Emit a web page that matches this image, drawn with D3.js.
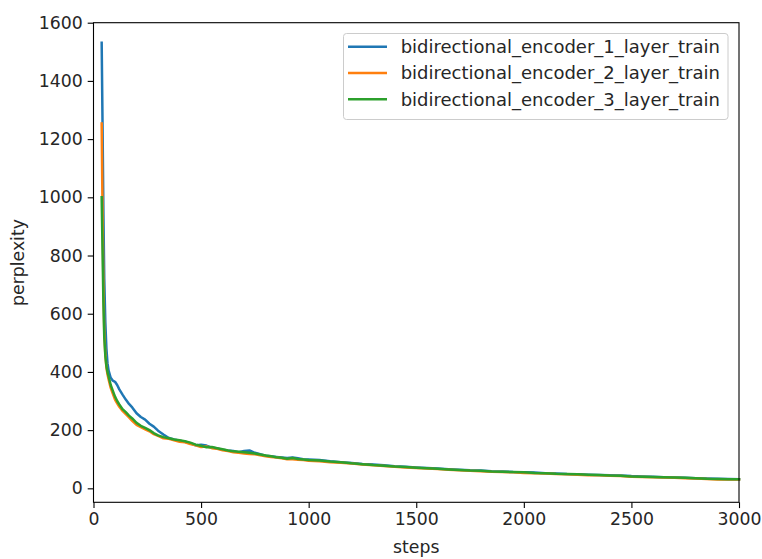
<!DOCTYPE html>
<html><head><meta charset="utf-8">
<script src="https://cdn.jsdelivr.net/npm/d3@7"></script>
<style>body{margin:0;background:#fff;} svg{display:block;} text{font-family:"DejaVu Sans",sans-serif;fill:#262626;}</style>
</head><body>
<script>
const steps = [38,42,46,50,55,60,65,70,80,90,100,110,120,135,150,165,180,200,220,240,260,280,300,
325,350,375,400,425,450,475,500,525,550,575,600,625,650,675,700,725,750,775,800,825,850,875,900,925,950,975,
1000,1050,1100,1150,1200,1250,1300,1350,1400,1450,1500,1550,1600,1650,1700,1750,1800,1850,1900,1950,
2000,2050,2100,2150,2200,2250,2300,2350,2400,2450,2500,2550,2600,2650,2700,2750,2800,2850,2900,2950,3000];

const layer1 = [1531,1250,950,720,570,480,430,405,380,370,366,355,340,322,305,290,278,258,245,236,222,212,198,
185,173,168,164,160,155,148,150,147,140,137,133,130,128,124,128,130,122,117,112,110,108,106,104,106,103,100,
99,97,93,90,87,84,82,79,76,74,72,70,68,66,64,62,61,59,58,56,
55,54,52,51,49,48,47,46,45,44,42,41,40,38,37,36,35,34,33,32,31];

const layer2 = [1254,950,700,540,460,415,392,375,345,325,305,292,280,266,255,244,232,218,210,203,196,186,180,
172,170,165,160,158,152,148,142,144,138,136,131,128,124,122,120,118,117,114,110,108,106,103,100,100,98,97,
95,93,90,88,85,82,79,77,74,72,70,68,66,64,62,60,59,57,56,55,
53,52,51,49,48,47,45,45,43,42,40,39,38,37,36,35,34,32,30,30,30];

const layer3 = [1000,820,640,520,455,420,400,385,355,335,315,300,288,272,262,250,240,225,215,208,200,190,182,
176,172,168,165,162,157,150,146,141,142,138,134,130,127,126,124,122,120,116,113,110,107,105,102,104,101,99,
97,96,92,90,86,83,80,78,75,73,71,69,67,65,63,61,60,58,57,56,
55,53,52,50,49,48,47,46,44,43,41,40,39,38,37,36,35,33,32,31,31];

const seriesNames = ["bidirectional_encoder_1_layer_train","bidirectional_encoder_2_layer_train","bidirectional_encoder_3_layer_train"];
const seriesColors = ["#1f77b4","#ff7f0e","#2ca02c"];
const xTicks = [0,500,1000,1500,2000,2500,3000];
const yTicks = [0,200,400,600,800,1000,1200,1400,1600];

const W = 762, H = 559;
const m = {left:93.5, right:739, top:22.7, bottom:502.3};
const fs = 17.3;
const lfs = 18;

const svg = d3.select("body").append("svg").attr("width",W).attr("height",H);
const x = d3.scaleLinear().domain([0,3000]).range([m.left,m.right]);
const y = d3.scaleLinear().domain([-48,1600]).range([m.bottom,m.top]);

const series = [layer1,layer2,layer3];
const line = d3.line().x(d=>x(d[0])).y(d=>y(d[1]));
const g = svg.append("g");
series.forEach((vals,i)=>{
  g.append("path").datum(steps.map((s,j)=>[s,vals[j]]))
    .attr("d",line).attr("fill","none").attr("stroke",seriesColors[i])
    .attr("stroke-width",2.5).attr("stroke-linejoin","round").attr("stroke-linecap","square");
});

// axes
const xAxis = d3.axisBottom(x).tickValues(xTicks).tickSize(5.8).tickPadding(5).tickFormat(d3.format("d"));
const yAxis = d3.axisLeft(y).tickValues(yTicks).tickSize(5.8).tickPadding(5).tickFormat(d3.format("d"));
const gx = svg.append("g").attr("transform",`translate(0,${m.bottom})`).call(xAxis);
const gy = svg.append("g").attr("transform",`translate(${m.left},0)`).call(yAxis);
[gx,gy].forEach(a=>{
  a.select(".domain").remove();
  a.selectAll(".tick line").attr("stroke","#000").attr("stroke-width",1.1);
  a.selectAll(".tick text").attr("font-size",fs).attr("font-family","DejaVu Sans").attr("fill","#262626");
});
// spines
svg.append("rect").attr("x",m.left).attr("y",m.top).attr("width",m.right-m.left).attr("height",m.bottom-m.top)
  .attr("fill","none").attr("stroke","#000").attr("stroke-width",1.1);

svg.append("text").attr("x",(m.left+m.right)/2).attr("y",553).attr("text-anchor","middle")
  .attr("font-size",fs).text("steps");
svg.append("text").attr("transform",`translate(24,${(m.top+m.bottom)/2}) rotate(-90)`).attr("text-anchor","middle")
  .attr("font-size",fs).text("perplexity");

// legend
const lg = svg.append("g");
lg.append("rect").attr("x",343.5).attr("y",33.5).attr("width",384.5).attr("height",86).attr("rx",3)
  .attr("fill","#fff").attr("fill-opacity",0.8).attr("stroke","#cccccc").attr("stroke-width",1);
seriesNames.forEach((n,i)=>{
  const yy = 46.7 + i*26.3;
  lg.append("line").attr("x1",348).attr("x2",387).attr("y1",yy).attr("y2",yy)
    .attr("stroke",seriesColors[i]).attr("stroke-width",2.5);
  lg.append("text").attr("x",400.7).attr("y",yy).attr("dy","0.35em").attr("font-size",lfs).text(n);
});
</script>
</body></html>
